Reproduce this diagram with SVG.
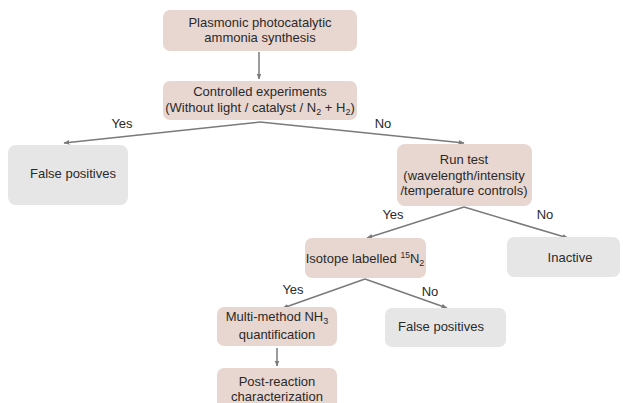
<svg xmlns="http://www.w3.org/2000/svg" width="623" height="403" viewBox="0 0 623 403">
<defs>
<marker id="ah" viewBox="0 0 10 10" refX="9" refY="5" markerWidth="6" markerHeight="6" orient="auto" markerUnits="userSpaceOnUse">
<path d="M0,1 L10,5 L0,9 z" fill="#7a7a7a"/>
</marker>
<style>
.p{fill:#e8d6d0}
.g{fill:#e6e6e6}
text{font-family:"Liberation Sans",Arial,sans-serif;font-size:13px;fill:#2a2a2a;text-anchor:middle}
.c{fill:none;stroke:#7a7a7a;stroke-width:1.5;marker-end:url(#ah)}
</style>
</defs>
<rect width="623" height="403" fill="#fff"/>
<g id="connectors">
<path class="c" d="M259,52 L259,79"/>
<path class="c" d="M260,122 L64,143"/>
<path class="c" d="M260,122 L464,143"/>
<path class="c" d="M464,207 L367,238"/>
<path class="c" d="M464,207 L568,238"/>
<path class="c" d="M365,279 L283,308"/>
<path class="c" d="M365,279 L447,308"/>
<path class="c" d="M277,348 L277,366"/>
<text x="122" y="128">Yes</text>
<text x="383" y="128">No</text>
<text x="393" y="219">Yes</text>
<text x="545" y="219">No</text>
<text x="293" y="294">Yes</text>
<text x="430" y="296">No</text>
</g>
<g id="n1"><rect class="p" x="163" y="10" width="194" height="41" rx="7"/>
<text x="260" y="27">Plasmonic photocatalytic</text><text x="260" y="42">ammonia synthesis</text></g>
<g id="n2"><rect class="p" x="163" y="81" width="194" height="39" rx="7"/>
<text x="260" y="96">Controlled experiments</text><text x="260" y="112">(Without light / catalyst / N<tspan font-size="9" dy="3">2</tspan><tspan dy="-3"> + H</tspan><tspan font-size="9" dy="3">2</tspan><tspan dy="-3">)</tspan></text></g>
<g id="n3"><rect class="g" x="8" y="145" width="120" height="60" rx="8"/>
<text x="73" y="178">False positives</text></g>
<g id="n4"><rect class="p" x="397" y="144" width="135" height="62" rx="8"/>
<text x="464" y="164">Run test</text><text x="464" y="180">(wavelength/intensity</text><text x="464" y="195">/temperature controls)</text></g>
<g id="n5"><rect class="p" x="305" y="238" width="121" height="40" rx="7"/>
<text x="365" y="263">Isotope labelled <tspan font-size="8.5" dy="-5">15</tspan><tspan dy="5">N</tspan><tspan font-size="9" dy="3">2</tspan></text></g>
<g id="n6"><rect class="g" x="507" y="237" width="113" height="40" rx="7"/>
<text x="570" y="262">Inactive</text></g>
<g id="n7"><rect class="p" x="217" y="307" width="120" height="39" rx="7"/>
<text x="277" y="321">Multi-method NH<tspan font-size="9" dy="3">3</tspan></text><text x="277" y="339">quantification</text></g>
<g id="n8"><rect class="g" x="385" y="308" width="121" height="39" rx="7"/>
<text x="441" y="331">False positives</text></g>
<g id="n9"><rect class="p" x="217" y="368" width="120" height="45" rx="7"/>
<text x="277" y="386">Post-reaction</text><text x="277" y="401">characterization</text></g>
</svg>
